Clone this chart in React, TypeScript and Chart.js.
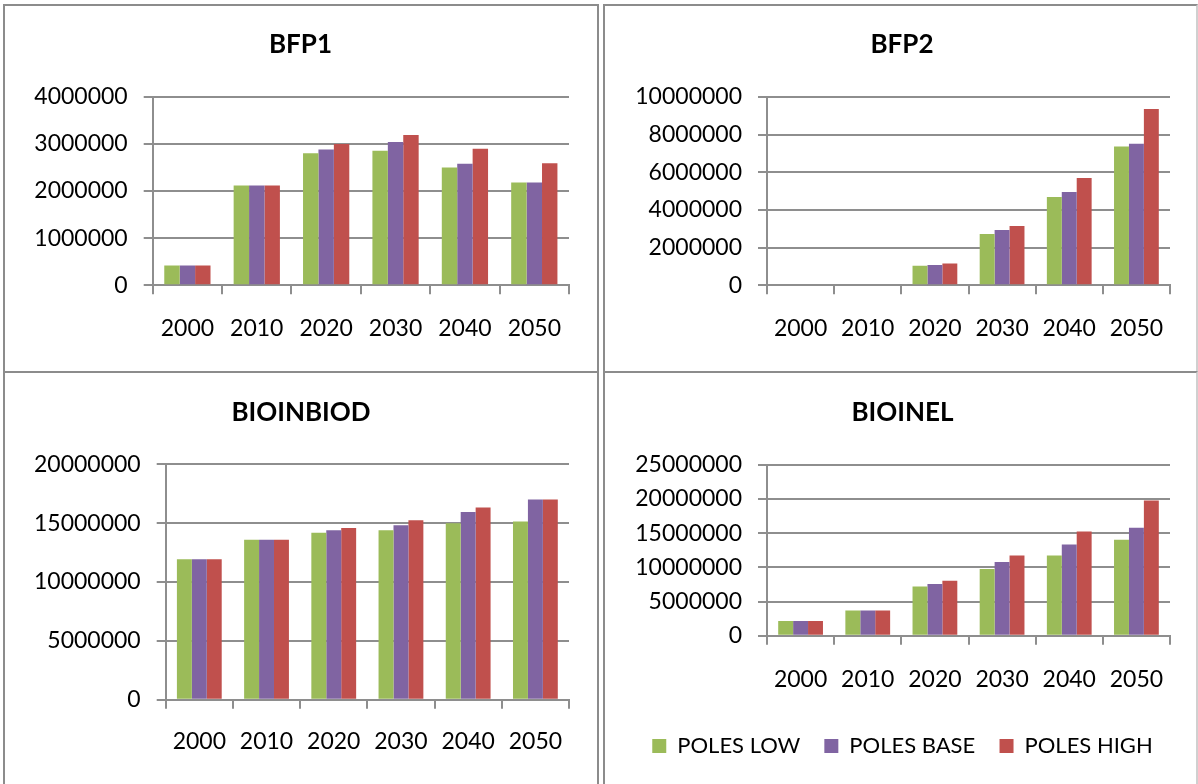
import React, { useEffect, useRef } from "react";
import { Chart, registerables } from "chart.js";

Chart.register(...registerables);

// ---------- data ----------
const years = ["2000", "2010", "2020", "2030", "2040", "2050"];
const seriesNames = ["POLES LOW", "POLES BASE", "POLES HIGH"];
const seriesColors = ["#9BBB59", "#8064A2", "#C0504D"];

const bfp1Low = [420000, 2120000, 2800000, 2855000, 2500000, 2180000];
const bfp1Base = [420000, 2120000, 2880000, 3040000, 2580000, 2180000];
const bfp1High = [420000, 2120000, 3000000, 3190000, 2900000, 2590000];

const bfp2Low = [0, 0, 1040000, 2720000, 4680000, 7370000];
const bfp2Base = [0, 0, 1080000, 2930000, 4950000, 7510000];
const bfp2High = [0, 0, 1150000, 3140000, 5690000, 9350000];

const bioinbiodLow = [11930000, 13600000, 14190000, 14390000, 14990000, 15130000];
const bioinbiodBase = [11930000, 13600000, 14390000, 14820000, 15950000, 17000000];
const bioinbiodHigh = [11930000, 13600000, 14590000, 15240000, 16320000, 17000000];

const bioinelLow = [2160000, 3680000, 7200000, 9750000, 11720000, 14020000];
const bioinelBase = [2160000, 3680000, 7550000, 10780000, 13330000, 15780000];
const bioinelHigh = [2160000, 3680000, 8040000, 11720000, 15250000, 19750000];

const titles = ["BFP1", "BFP2", "BIOINBIOD", "BIOINEL"];
const yMaxes = [4000000, 10000000, 20000000, 25000000];
const ySteps = [1000000, 2000000, 5000000, 5000000];

// ---------- styling / layout ----------
const FONT = "Lato, 'Open Sans', sans-serif";
const GRID = "#8e8e8e";
const BORDER = "#8c8c8c";
const LEGEND_GAP = "\u00a0\u00a0";

type Panel = {
  title: string;
  series: number[][];
  yMax: number;
  yStep: number;
  x: number;
  y: number;
  w: number;
  h: number;
  pad: { left: number; right: number; top: number; bottom: number };
  titleGap: number;
  yW: number;
  xH: number;
  xPad: number;
  legend: boolean;
};

const panels: Panel[] = [
  {
    title: titles[0], series: [bfp1Low, bfp1Base, bfp1High], yMax: yMaxes[0], yStep: ySteps[0],
    x: 5, y: 6, w: 592, h: 365,
    pad: { left: 27, right: 28, top: 23, bottom: 0 }, titleGap: 36.6, yW: 120.7, xH: 85.7, xPad: 20, legend: false,
  },
  {
    title: titles[1], series: [bfp2Low, bfp2Base, bfp2High], yMax: yMaxes[1], yStep: ySteps[1],
    x: 606, y: 6, w: 590, h: 365,
    pad: { left: 28, right: 26, top: 23, bottom: 0 }, titleGap: 36.6, yW: 133, xH: 85.7, xPad: 20, legend: false,
  },
  {
    title: titles[2], series: [bioinbiodLow, bioinbiodBase, bioinbiodHigh], yMax: yMaxes[2], yStep: ySteps[2],
    x: 5, y: 373, w: 592, h: 411,
    pad: { left: 28, right: 28, top: 24.4, bottom: 0 }, titleGap: 35.7, yW: 132.7, xH: 84.3, xPad: 19.5, legend: false,
  },
  {
    title: titles[3], series: [bioinelLow, bioinelBase, bioinelHigh], yMax: yMaxes[3], yStep: ySteps[3],
    x: 606, y: 373, w: 590, h: 411,
    pad: { left: 29, right: 26, top: 24.4, bottom: 17 }, titleGap: 36.1, yW: 132, xH: 86.3, xPad: 21.5, legend: true,
  },
];

function BarPanel({ p }: { p: Panel }) {
  const ref = useRef<HTMLCanvasElement>(null);
  useEffect(() => {
    const canvas = ref.current;
    if (!canvas) return;
    const chart = new Chart(canvas, {
      type: "bar",
      data: {
        labels: years,
        datasets: p.series.map((vals, i) => ({
          label: seriesNames[i],
          data: vals,
          backgroundColor: seriesColors[i],
          borderColor: seriesColors[i],
          borderWidth: 0,
          categoryPercentage: 2 / 3,
          barPercentage: 1,
        })),
      },
      options: {
        responsive: false,
        animation: false,
        devicePixelRatio: 1,
        layout: { padding: p.pad },
        plugins: {
          title: {
            display: true,
            text: p.title,
            color: "#000",
            font: { family: FONT, size: 26, weight: "bold", lineHeight: 1.2 },
            padding: { top: 0, bottom: p.titleGap },
          },
          legend: p.legend
            ? {
                display: true,
                position: "bottom",
                labels: {
                  boxWidth: 14,
                  boxHeight: 14,
                  padding: 13,
                  color: "#000",
                  font: { family: FONT, size: 22 },
                  generateLabels: (c: any) => {
                    const items = (Chart.defaults.plugins.legend.labels as any).generateLabels(c);
                    return items.map((it: any, i: number) => ({
                      ...it,
                      text: i < items.length - 1 ? it.text + LEGEND_GAP : it.text,
                    }));
                  },
                },
              }
            : { display: false },
          tooltip: { enabled: false },
        },
        scales: {
          x: {
            grid: {
              display: true,
              drawOnChartArea: false,
              drawTicks: true,
              tickLength: 9,
              color: GRID,
              lineWidth: 2,
              offset: true,
            },
            border: { display: true, color: GRID, width: 2 },
            ticks: {
              color: "#000",
              font: { family: FONT, size: 23, lineHeight: 1.2 },
              padding: p.xPad,
              autoSkip: false,
              maxRotation: 0,
              minRotation: 0,
            },
            afterFit: (s: any) => {
              s.height = p.xH;
            },
          },
          y: {
            min: 0,
            max: p.yMax,
            grid: { color: GRID, lineWidth: 2, tickLength: 9, drawTicks: true },
            border: { display: true, color: GRID, width: 2 },
            ticks: {
              stepSize: p.yStep,
              autoSkip: false,
              color: "#000",
              font: { family: FONT, size: 23, lineHeight: 1.2 },
              padding: 16,
              callback: (v: any) => String(v),
            },
            afterFit: (s: any) => {
              s.width = p.yW;
            },
          },
        },
      } as any,
    });
    return () => chart.destroy();
  }, [p]);
  return (
    <canvas
      ref={ref}
      width={p.w}
      height={p.h}
      style={{ position: "absolute", left: p.x, top: p.y, width: p.w, height: p.h }}
    />
  );
}

const frame = (left: number, top: number, width: number, height: number, extra: any = {}) => (
  <div
    style={{
      position: "absolute",
      left,
      top,
      width,
      height,
      boxSizing: "border-box",
      border: `2px solid ${BORDER}`,
      ...extra,
    }}
  />
);

export default function App() {
  return (
    <div
      style={{
        position: "absolute",
        left: 0,
        top: 0,
        width: 1198,
        height: 784,
        overflow: "hidden",
        background: "#fff",
      }}
    >
      {frame(3, 4, 596, 369)}
      {frame(3, 371, 596, 430)}
      {frame(603, 4, 595, 369, { borderRight: "2px solid #d0d0d0" })}
      {frame(603, 371, 595, 430, { borderRight: "2px solid #d0d0d0" })}
      {panels.map((p) => (
        <BarPanel key={p.title} p={p} />
      ))}
    </div>
  );
}
